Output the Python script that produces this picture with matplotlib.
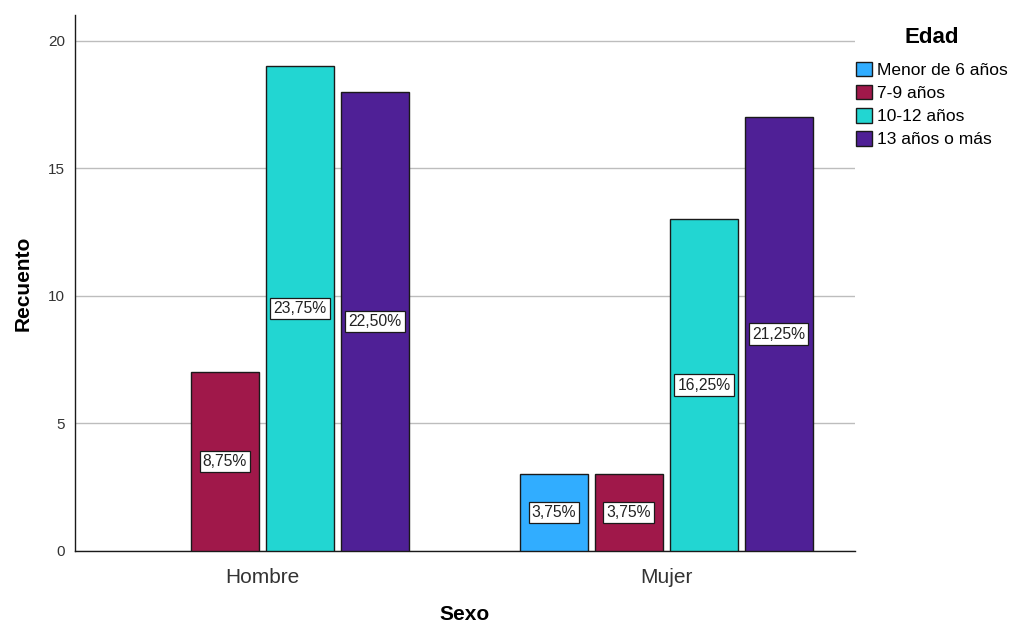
import matplotlib
matplotlib.use('Agg')
import matplotlib.pyplot as plt
import numpy as np

plt.rcParams['font.family'] = ['Liberation Sans', 'DejaVu Sans']

sexo = ['Hombre', 'Mujer']
edad = ['Menor de 6 años', '7-9 años', '10-12 años', '13 años o más']
menor6 = [0, 3]
e7_9 = [7, 3]
e10_12 = [19, 13]
e13 = [18, 17]
series = [menor6, e7_9, e10_12, e13]
colores = ['#31ADFF', '#A0184A', '#22D6D2', '#4F2096']

total = sum(sum(s) for s in series)

fig = plt.figure(figsize=(10.09, 6.26), dpi=100)
ax = fig.add_axes([75/1009, 75/626, 780/1009, 536/626])

x = np.arange(len(sexo))
step = 0.1856
width = 0.168
for i, (vals, col, lab) in enumerate(zip(series, colores, edad)):
    pos = x + (i - 1.5) * step
    lws = [1.0 if v > 0 else 0 for v in vals]
    ax.bar(pos, vals, width=width, color=col, edgecolor='#1a1a1a',
           linewidth=lws, label=lab, zorder=3)
    for p, v in zip(pos, vals):
        if v > 0:
            pct = f"{v / total * 100:.2f}%".replace('.', ',')
            ax.text(p, v / 2, pct, ha='center', va='center', fontsize=11.3,
                    color='#222222', zorder=5,
                    bbox=dict(boxstyle='square,pad=0.2', fc='white',
                              ec='#1a1a1a', lw=0.9))

ax.set_xlim(-0.464, 1.467)
ax.set_ylim(0, 21)
ax.set_yticks([0, 5, 10, 15, 20])
ax.set_xticks(x)
ax.set_xticklabels(sexo, fontsize=15, color='#333333')
ax.tick_params(axis='y', length=0, pad=7, labelsize=11, labelcolor='#333333')
ax.tick_params(axis='x', length=0, pad=12)
ax.yaxis.grid(True, color='#bdbdbd', linewidth=1.0, zorder=0)
ax.set_axisbelow(True)
for s in ['top', 'right']:
    ax.spines[s].set_visible(False)
for s in ['left', 'bottom']:
    ax.spines[s].set_color('#1a1a1a')
    ax.spines[s].set_linewidth(1.0)

ax.set_xlabel('Sexo', fontsize=15, fontweight='bold', labelpad=13)
ax.set_ylabel('Recuento', fontsize=15, fontweight='bold', labelpad=11)

leg = ax.legend(loc='upper left', bbox_to_anchor=(856/1009, 1 - 27/626),
                bbox_transform=fig.transFigure, frameon=False, fontsize=12.5,
                title='Edad', title_fontproperties={'weight': 'bold', 'size': 16},
                handlelength=0.9, handleheight=0.9, handletextpad=0.3,
                labelspacing=0.4, borderaxespad=0, borderpad=0)
leg._legend_box.sep = 10
for h in leg.legend_handles:
    h.set_linewidth(1.0)

fig.savefig('out.png', dpi=100)
